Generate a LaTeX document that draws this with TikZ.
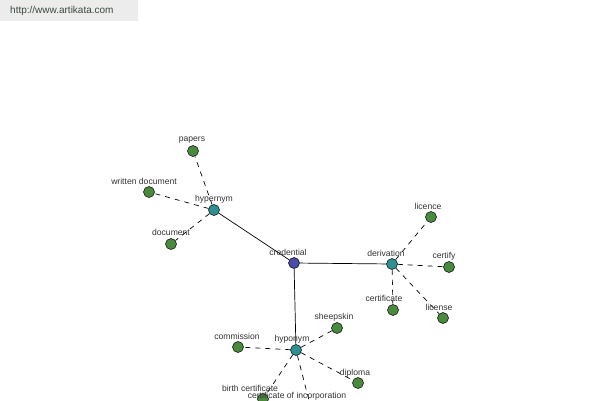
\documentclass[tikz,border=0pt]{standalone}
\usepackage{fontspec}
\setmainfont{Liberation Sans}
\begin{document}
\begin{tikzpicture}[x=1pt,y=-1pt,
  dot/.style={circle,draw=black,line width=0.5pt,minimum size=11pt,inner sep=0pt},
  root/.style={dot,fill=rootc},
  hub/.style={dot,fill=hubc},
  leaf/.style={dot,fill=leafc},
  lbl/.style={font=\fontsize{8.6}{9}\selectfont,text=labc,inner sep=0pt},
  solidlink/.style={draw=black,line width=0.7pt},
  dashlink/.style={draw=black,line width=0.7pt,dash pattern=on 5pt off 5pt}]
\definecolor{rootc}{HTML}{4B4BA8}
\definecolor{hubc}{HTML}{2E9090}
\definecolor{leafc}{HTML}{4A8A3F}
\definecolor{labc}{HTML}{333333}
\definecolor{wmbg}{HTML}{ECECEC}
\definecolor{wmtext}{HTML}{3A4A3A}
\useasboundingbox (0,0) rectangle (600,400);
\clip (0,0) rectangle (600,400);
\fill[white] (0,0) rectangle (600,400);
\fill[wmbg] (0,0) rectangle (138,21);
\node[anchor=west,font=\fontsize{10}{12}\selectfont,text=wmtext,inner sep=0pt] (wm) at (10,11) {http://www.artikata.com};
% nodes
\node[root] (cred) at (294,263) {};
\node[hub] (hyper) at (214,210) {};
\node[hub] (deriv) at (392,264) {};
\node[hub] (hypo) at (296,350) {};
\node[leaf] (papers) at (193,151) {};
\node[leaf] (wdoc) at (149,192) {};
\node[leaf] (doc) at (171,244) {};
\node[leaf] (licence) at (431,217) {};
\node[leaf] (certify) at (449,267) {};
\node[leaf] (certif) at (393,310) {};
\node[leaf] (license) at (443,318) {};
\node[leaf] (sheep) at (337,328) {};
\node[leaf] (comm) at (238,347) {};
\node[leaf] (dipl) at (358,383) {};
\node[leaf] (birth) at (263,399) {};
\node[leaf] (incorp) at (312,412) {};
% links
\draw[solidlink] (cred) -- (hyper);
\draw[solidlink] (cred) -- (deriv);
\draw[solidlink] (cred) -- (hypo);
\foreach \l in {papers,wdoc,doc} \draw[dashlink] (hyper) -- (\l);
\foreach \l in {licence,certify,certif,license} \draw[dashlink] (deriv) -- (\l);
\foreach \l in {sheep,comm,dipl,birth,incorp} \draw[dashlink] (hypo) -- (\l);
% labels
\node[lbl] (lpapers) at (192,140) {papers};
\node[lbl] (lwdoc) at (144,181) {written document};
\node[lbl] (lhyper) at (214,199) {hypernym};
\node[lbl] (ldoc) at (171,232) {document};
\node[lbl] (lcred) at (288,252) {credential};
\node[lbl] (lderiv) at (386,253) {derivation};
\node[lbl] (llicence) at (428,206) {licence};
\node[lbl] (lcertify) at (444,256) {certify};
\node[lbl] (lcertif) at (384,298) {certificate};
\node[lbl] (llicense) at (439,307) {license};
\node[lbl] (lsheep) at (334,317) {sheepskin};
\node[lbl] (lcomm) at (237,336) {commission};
\node[lbl] (lhypo) at (292,339) {hyponym};
\node[lbl] (ldipl) at (355,373) {diploma};
\node[lbl] (lbirth) at (250,388) {birth certificate};
\node[lbl] (lincorp) at (297,396.5) {certificate of incorporation};
\end{tikzpicture}
\end{document}
